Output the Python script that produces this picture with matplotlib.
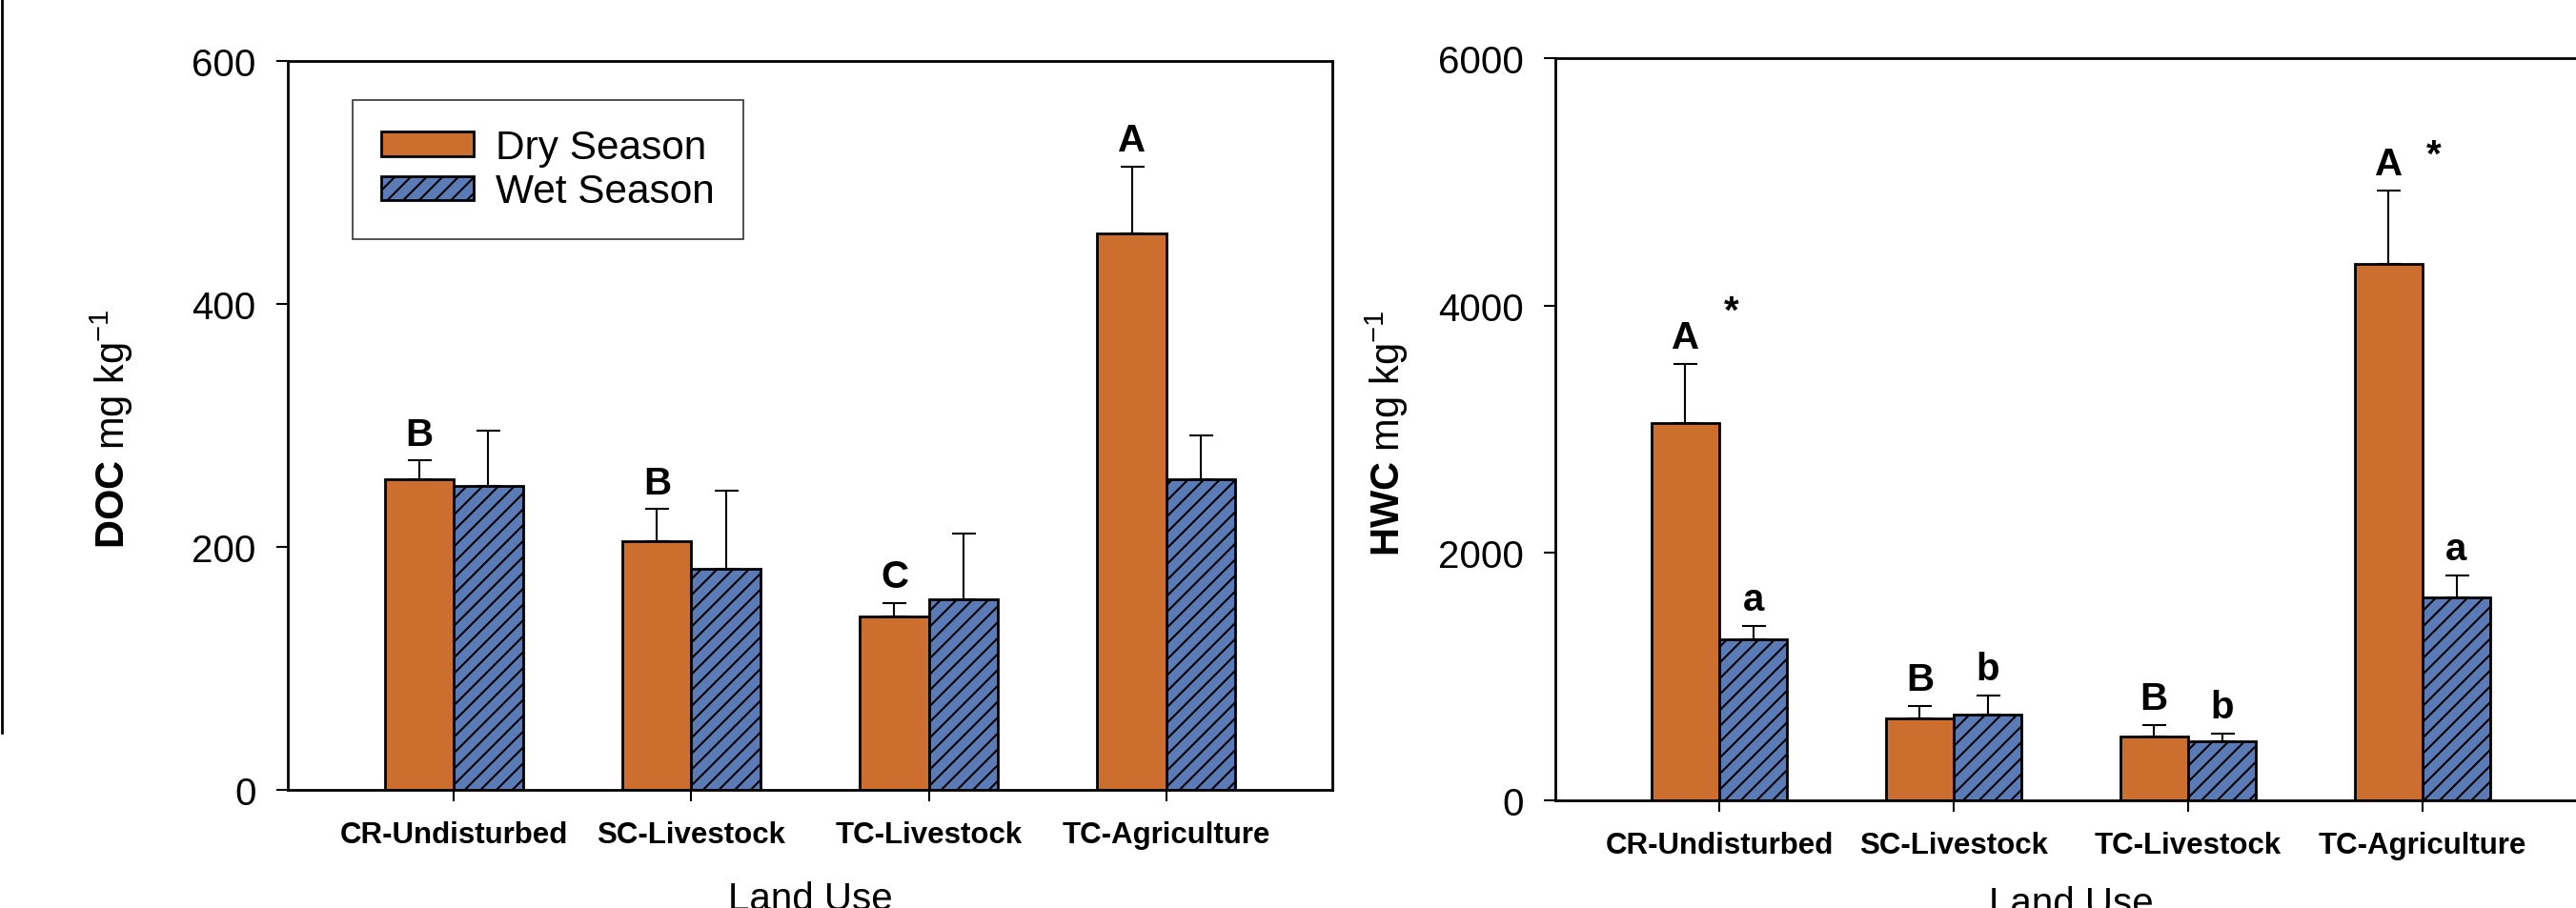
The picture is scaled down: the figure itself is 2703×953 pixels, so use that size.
import matplotlib
matplotlib.use("Agg")
import matplotlib.pyplot as plt
from matplotlib.lines import Line2D
import numpy as np

plt.rcParams['font.family'] = ['Liberation Sans', 'DejaVu Sans']
plt.rcParams['mathtext.fontset'] = 'custom'
plt.rcParams['mathtext.rm'] = 'Liberation Sans'
plt.rcParams['mathtext.bf'] = 'Liberation Sans:bold'
plt.rcParams['hatch.linewidth'] = 1.5

# --- data ---
land_use = ['CR-Undisturbed', 'SC-Livestock', 'TC-Livestock', 'TC-Agriculture']

doc_dry = [256, 205, 143, 458]
doc_dry_err = [15, 26, 11, 55]
doc_wet = [250, 182, 157, 256]
doc_wet_err = [46, 64, 54, 36]
doc_dry_letters = ['B', 'B', 'C', 'A']
doc_wet_letters = ['', '', '', '']

hwc_dry = [3050, 662, 516, 4336]
hwc_dry_err = [478, 100, 92, 593]
hwc_wet = [1302, 693, 478, 1640]
hwc_wet_err = [107, 154, 61, 178]
hwc_dry_letters = ['A', 'B', 'B', 'A']
hwc_wet_letters = ['a', 'b', 'b', 'a']

# seasonal difference markers (category index, y of the star centre)
star_cat = [0, 3]
star_y = [4040, 5300]

ORANGE = '#CC6E2E'
BLUE = '#5B7BB7'
W = 0.29

fig = plt.figure(figsize=(27.03, 9.54), dpi=100)
W_PX, H_PX = 2703, 954


def px_axes(left, top, right, bottom):
    return fig.add_axes([left / W_PX, 1 - bottom / H_PX,
                         (right - left) / W_PX, (bottom - top) / H_PX])


def draw_panel(ax, dry, dry_err, wet, wet_err, dry_lab, wet_lab, ymax, yticks):
    x = np.arange(len(land_use))
    zeros = [0] * len(x)
    ekw = dict(elinewidth=1.5, capthick=1.5, ecolor='black')
    ax.bar(x - W / 2, dry, W, color=ORANGE, edgecolor='black', linewidth=2,
           yerr=[zeros, dry_err], capsize=9, error_kw=ekw, label='Dry Season')
    ax.bar(x + W / 2, wet, W, color=BLUE, edgecolor='black', linewidth=2,
           hatch='//', yerr=[zeros, wet_err], capsize=9, error_kw=ekw,
           label='Wet Season')
    for i in x:
        for xpos, top, lab in [(i - W / 2, dry[i] + dry_err[i], dry_lab[i]),
                               (i + W / 2, wet[i] + wet_err[i], wet_lab[i])]:
            if lab:
                ax.annotate(lab, xy=(xpos, top), xytext=(0, 12),
                            textcoords='offset points', ha='center',
                            va='baseline', fontsize=29, fontweight='bold')
    ax.set_xlim(-0.7, 3.7)
    ax.set_ylim(0, ymax)
    ax.set_yticks(yticks)
    ax.set_xticks(x)
    ax.set_xticklabels(land_use, fontsize=22.5, fontweight='bold')
    ax.tick_params(axis='y', labelsize=29, length=8.6, width=1.5, pad=15.5)
    ax.tick_params(axis='x', length=8.6, width=1.5, pad=14.5)
    for s in ax.spines.values():
        s.set_linewidth(2)


# left panel: DOC
ax1 = px_axes(302, 65, 1398, 830)
draw_panel(ax1, doc_dry, doc_dry_err, doc_wet, doc_wet_err,
           doc_dry_letters, doc_wet_letters, 600, [0, 200, 400, 600])
ax1.set_xlabel('Land Use', fontsize=29, va='top')
ax1.xaxis.set_label_coords(0.5, -0.124)
leg = ax1.legend(loc='upper left', bbox_to_anchor=(0.062, 0.946),
                 borderaxespad=0, fontsize=30.5, fancybox=False,
                 edgecolor='black', handlelength=2.3, handleheight=0.55,
                 handletextpad=0.55, borderpad=0.7, labelspacing=0.15)
leg.get_frame().set_linewidth(1.2)
fig.text(117 / W_PX, 1 - 450 / H_PX, r'$\mathbf{DOC}$ mg kg$^{-1}$',
         rotation=90, ha='center', va='center', fontsize=30)

# right panel: HWC (cropped on the right in the original)
ax2 = px_axes(1632, 62, 2714, 841)
draw_panel(ax2, hwc_dry, hwc_dry_err, hwc_wet, hwc_wet_err,
           hwc_dry_letters, hwc_wet_letters, 6000, [0, 2000, 4000, 6000])
ax2.set_xlabel('Land Use', fontsize=29, va='top')
ax2.xaxis.set_label_coords(0.5, -0.114)
for c, y in zip(star_cat, star_y):
    ax2.annotate('*', xy=(c + 0.05, y), xytext=(0, -16),
                 textcoords='offset points', ha='center', va='baseline',
                 fontsize=29, fontweight='bold')
fig.text(1455 / W_PX, 1 - 455 / H_PX, r'$\mathbf{HWC}$ mg kg$^{-1}$',
         rotation=90, ha='center', va='center', fontsize=30)

# stray border line on the far left of the original image
fig.add_artist(Line2D([1.5 / W_PX, 1.5 / W_PX], [1, 1 - 770 / H_PX],
                      transform=fig.transFigure, color='black', linewidth=2))

fig.savefig('out.png', dpi=100)
